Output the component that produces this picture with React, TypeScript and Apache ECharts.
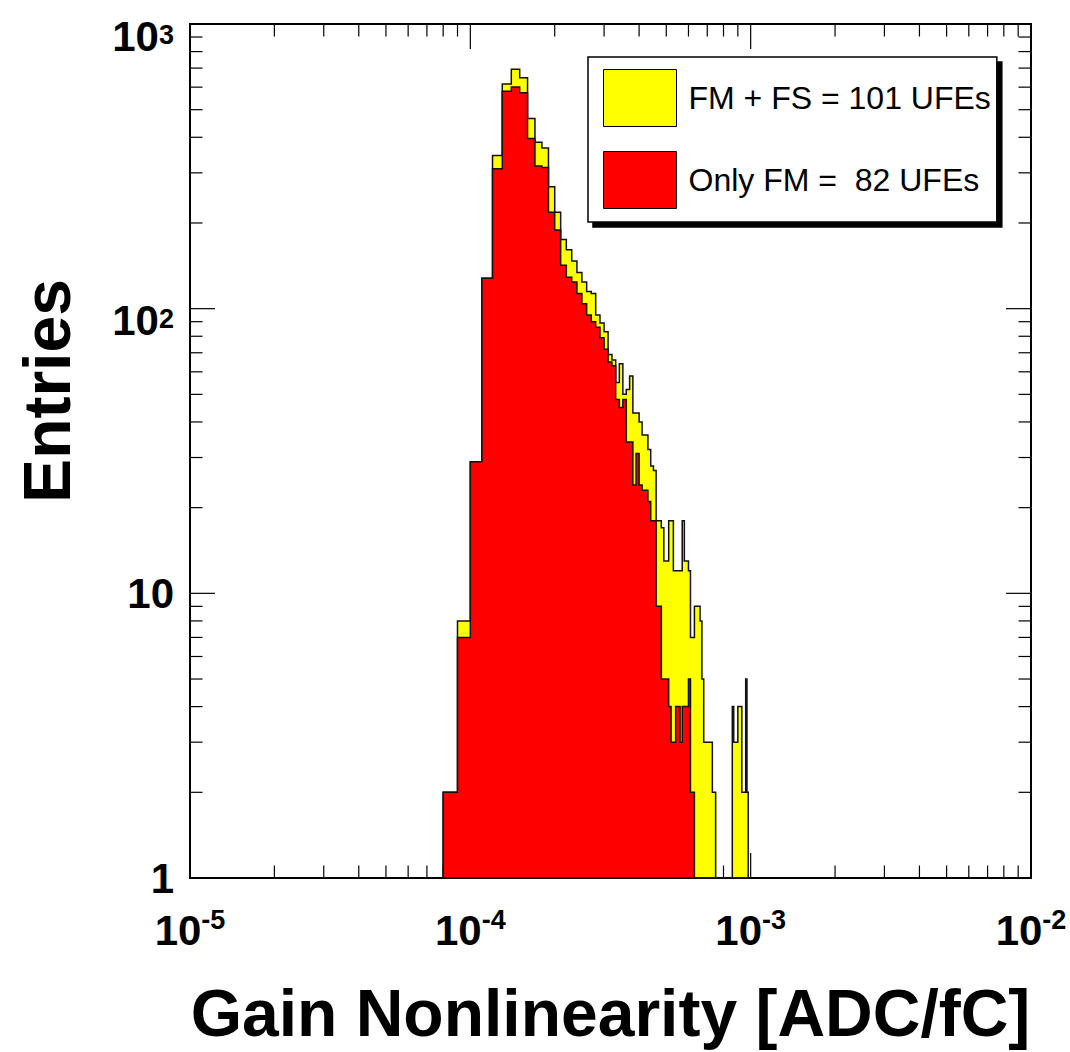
import React, { useEffect, useRef } from 'react';
import * as echarts from 'echarts';

// ---- data ----
const FIRST_BIN_LOW_EDGE = 8e-5; // ADC/fC
const BIN_WIDTH = 1e-5;          // ADC/fC
// counts per bin, bins start at 8e-5 and step 1e-5 (up to 1e-3)
const fmPlusFsCounts = [
  2, 8, 29, 128, 345, 615, 694, 647, 466, 384, 367, 268, 218, 175, 161, 147, 134, 124, 115, 113,
  95, 89, 83, 69, 66, 55, 64, 50, 52, 58, 43, 43, 40, 36, 36, 32, 28, 27, 18, 18,
  17, 13, 13, 18, 18, 12, 12, 12, 12, 18, 13, 13, 12, 7, 7, 9, 9, 9, 8, 5,
  3, 3, 3, 3, 3, 2, 2, 0, 0, 0, 0, 0, 0, 0, 0, 0, 0, 0, 4, 3,
  3, 3, 4, 4, 4, 2, 2, 2, 5, 2, 0, 0,
];
const onlyFmCounts = [
  2, 7, 29, 128, 310, 580, 601, 573, 396, 317, 313, 218, 189, 142, 129, 124, 113, 104, 95, 90,
  86, 79, 72, 65, 63, 48, 45, 48, 34, 34, 24, 31, 24, 23, 23, 21, 18, 18, 9, 9,
  5, 5, 5, 4, 3, 3, 4, 4, 3, 4, 4, 4, 5, 2, 2, 0, 0, 0, 0, 0,
  0, 0, 0, 0, 0, 0, 0, 0, 0, 0, 0, 0, 0, 0, 0, 0, 0, 0, 0, 0,
  0, 0, 0, 0, 0, 0, 0, 0, 0, 0, 0, 0,
];
const seriesNames = ['FM + FS = 101 UFEs', 'Only FM =  82 UFEs'];
const seriesColors = ['#ffff00', '#ff0000'];
const xRange = [1e-5, 1e-2];
const yRange = [1, 1000];
const xDecades = [1e-5, 1e-4, 1e-3, 1e-2];
const yDecades = [1, 10, 100, 1000];
const minorMultiples = [2, 3, 4, 5, 6, 7, 8, 9];
const xTitle = 'Gain Nonlinearity [ADC/fC]';
const yTitle = 'Entries';

const FONT = "'Liberation Sans', Arial, Helvetica, sans-serif";
const MAJOR_LEN = 25;
const MINOR_LEN = 12.5;

function histPoints(counts: number[], api: any) {
  const base = yRange[0];
  const pts: number[][] = [];
  pts.push(api.coord([FIRST_BIN_LOW_EDGE, base]));
  counts.forEach((c, i) => {
    const lo = FIRST_BIN_LOW_EDGE + i * BIN_WIDTH;
    const hi = lo + BIN_WIDTH;
    const v = Math.max(c, base);
    pts.push(api.coord([lo, v]));
    pts.push(api.coord([hi, v]));
  });
  pts.push(api.coord([FIRST_BIN_LOW_EDGE + counts.length * BIN_WIDTH, base]));
  return pts;
}

function minorsOf(decades: number[]) {
  const out: number[] = [];
  decades.slice(0, -1).forEach((d) => minorMultiples.forEach((m) => out.push(d * m)));
  return out;
}

function tickGroup(api: any) {
  const children: any[] = [];
  const add = (p: number[], dx: number, dy: number) =>
    children.push({
      type: 'line',
      shape: { x1: p[0], y1: p[1], x2: p[0] + dx, y2: p[1] + dy },
      style: { stroke: '#000', lineWidth: 1.2 },
    });
  const xs = [
    ...xDecades.map((v) => [v, MAJOR_LEN]),
    ...minorsOf(xDecades).map((v) => [v, MINOR_LEN]),
  ];
  xs.forEach(([v, len]) => {
    add(api.coord([v, yRange[0]]), 0, -len);
    add(api.coord([v, yRange[1]]), 0, len);
  });
  const ys = [
    ...yDecades.map((v) => [v, MAJOR_LEN]),
    ...minorsOf(yDecades).map((v) => [v, MINOR_LEN]),
  ];
  ys.forEach(([v, len]) => {
    add(api.coord([xRange[0], v]), len, 0);
    add(api.coord([xRange[1], v]), -len, 0);
  });
  return { type: 'group', children };
}

export default function App() {
  const ref = useRef<HTMLDivElement>(null);
  useEffect(() => {
    document.body.style.margin = '0';
    if (!ref.current) return;
    const chart = echarts.init(ref.current, undefined, { renderer: 'svg' });
    const bold = { fontFamily: FONT, fontWeight: 'bold' as const, color: '#000' };
    const option: any = {
      animation: false,
      backgroundColor: '#fff',
      grid: {
        left: 190,
        top: 24,
        right: 39,
        bottom: 174,
        show: true,
        borderColor: '#000',
        borderWidth: 2,
        backgroundColor: 'transparent',
        containLabel: false,
        outerBoundsMode: 'none',
      },
      xAxis: {
        type: 'log',
        logBase: 10,
        min: xRange[0],
        max: xRange[1],
        axisLine: { show: false },
        axisTick: { show: false },
        minorTick: { show: false },
        splitLine: { show: false },
        axisLabel: {
          margin: 28,
          showMinLabel: true,
          showMaxLabel: true,
          formatter: (v: number) => `{b|10}{s|${Math.round(Math.log10(v))}}`,
          rich: {
            b: { ...bold, fontSize: 42, lineHeight: 48 },
            s: { ...bold, fontSize: 27, lineHeight: 27, verticalAlign: 'top', padding: [0, 0, 21, 0] },
          },
        },
        name: xTitle,
        nameLocation: 'middle',
        nameGap: 102,
        nameTextStyle: { ...bold, fontSize: 66, lineHeight: 66 },
      },
      yAxis: {
        type: 'log',
        logBase: 10,
        min: yRange[0],
        max: yRange[1],
        axisLine: { show: false },
        axisTick: { show: false },
        minorTick: { show: false },
        splitLine: { show: false },
        axisLabel: {
          margin: 16,
          showMinLabel: true,
          showMaxLabel: true,
          formatter: (v: number) => {
            const e = Math.round(Math.log10(v));
            if (e === 0) return '{b|1}';
            if (e === 1) return '{b|10}';
            return `{bs|10}{s|${e}}`;
          },
          rich: {
            b: { ...bold, fontSize: 42, lineHeight: 48 },
            bs: { ...bold, fontSize: 42, lineHeight: 48, padding: [24, 0, 0, 0] },
            s: { ...bold, fontSize: 27, lineHeight: 27, verticalAlign: 'top', padding: [21, 0, 24, 0] },
          },
        },
        name: yTitle,
        nameLocation: 'middle',
        nameGap: 110,
        nameTextStyle: { ...bold, fontSize: 66, lineHeight: 66, padding: [0, 0, 0, 120] },
      },
      legend: {
        show: true,
        left: 588,
        top: 57,
        orient: 'vertical',
        icon: 'rect',
        itemWidth: 73,
        itemHeight: 57,
        itemGap: 24,
        padding: [12, 6, 13, 15],
        selectedMode: false,
        backgroundColor: '#fff',
        borderColor: '#000',
        borderWidth: 1.5,
        shadowColor: '#000',
        shadowBlur: 0,
        shadowOffsetX: 5,
        shadowOffsetY: 5,
        textStyle: { fontFamily: FONT, fontSize: 32, color: '#000', padding: [0, 0, 0, 7] },
        data: seriesNames.map((n, i) => ({
          name: n,
          itemStyle: { color: seriesColors[i], borderColor: '#000', borderWidth: 1 },
        })),
      },
      series: [
        {
          type: 'custom',
          name: 'ticks',
          silent: true,
          data: [[xRange[0], yRange[0]]],
          renderItem: (_p: any, api: any) => tickGroup(api),
        },
        {
          type: 'custom',
          name: seriesNames[0],
          silent: true,
          itemStyle: { color: seriesColors[0], borderColor: '#000', borderWidth: 1 },
          data: [[FIRST_BIN_LOW_EDGE, yRange[0]]],
          renderItem: (_p: any, api: any) => ({
            type: 'polygon',
            shape: { points: histPoints(fmPlusFsCounts, api) },
            style: { fill: seriesColors[0], stroke: '#111', lineWidth: 1.5, lineJoin: 'miter' },
          }),
        },
        {
          type: 'custom',
          name: seriesNames[1],
          silent: true,
          itemStyle: { color: seriesColors[1], borderColor: '#000', borderWidth: 1 },
          data: [[FIRST_BIN_LOW_EDGE, yRange[0]]],
          renderItem: (_p: any, api: any) => ({
            type: 'polygon',
            shape: { points: histPoints(onlyFmCounts, api) },
            style: { fill: seriesColors[1], stroke: '#111', lineWidth: 1.5, lineJoin: 'miter' },
          }),
        },
      ],
    };
    chart.setOption(option);
    return () => chart.dispose();
  }, []);
  return <div ref={ref} style={{ width: 1070, height: 1052 }} />;
}
